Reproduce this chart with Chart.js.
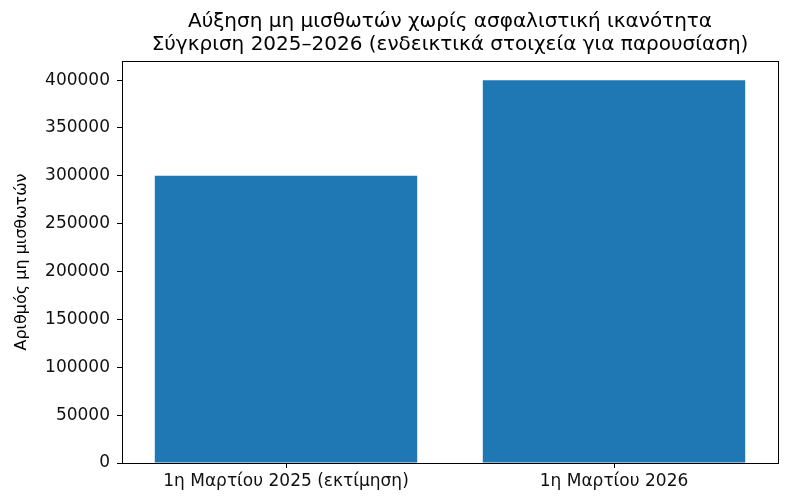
<!DOCTYPE html>
<html>
<head>
<meta charset="utf-8">
<script src="https://cdn.jsdelivr.net/npm/chart.js@4/dist/chart.umd.min.js"></script>
<style>
  html, body { margin: 0; padding: 0; background: #fff; }
  #wrap { width: 791px; height: 500px; }
</style>
</head>
<body>
<div id="wrap"><canvas id="chart"></canvas></div>
<script>
// δεδομένα
const categories = ["1η Μαρτίου 2025 (εκτίμηση)", "1η Μαρτίου 2026"];
const values = [300000, 400000];
const titleLines = [
  "Αύξηση μη μισθωτών χωρίς ασφαλιστική ικανότητα",
  "Σύγκριση 2025–2026 (ενδεικτικά στοιχεία για παρουσίαση)"
];
const yLabel = "Αριθμός μη μισθωτών";
const yTicks = [0, 50000, 100000, 150000, 200000, 250000, 300000, 350000, 400000];
const yMax = 420000;

const FONT = "'DejaVu Sans', sans-serif";

// πλαίσιο γύρω από την περιοχή σχεδίασης (όπως στο matplotlib)
const frame = {
  id: "frame",
  afterDraw(chart) {
    const { ctx, chartArea: a } = chart;
    ctx.save();
    ctx.strokeStyle = "#000";
    ctx.lineWidth = 1;
    ctx.strokeRect(Math.round(a.left) + 0.5, Math.round(a.top) + 0.5,
      Math.round(a.right - a.left), Math.round(a.bottom - a.top));
    ctx.restore();
  }
};

new Chart(document.getElementById("chart"), {
  type: "bar",
  data: {
    labels: categories,
    datasets: [{
      data: values,
      backgroundColor: "#1f77b4",
      barPercentage: 0.8,
      categoryPercentage: 1.0
    }]
  },
  options: {
    responsive: true,
    maintainAspectRatio: false,
    animation: false,
    layout: { padding: { left: 12, right: 13, top: 0, bottom: 0 } },
    plugins: {
      legend: { display: false },
      tooltip: { enabled: false },
      title: {
        display: true,
        fullSize: false,
        text: titleLines,
        color: "#000",
        font: { family: FONT, size: 20, weight: "normal", lineHeight: 1.15 },
        padding: { top: 10, bottom: 5 }
      }
    },
    scales: {
      x: {
        offset: true,
        border: { display: true, color: "#000", width: 1 },
        grid: {
          display: true, offset: false, drawOnChartArea: false,
          drawTicks: true, tickLength: 5, color: "#000"
        },
        ticks: { color: "#111", padding: 3, maxRotation: 0, font: { family: FONT, size: 17 } },
        afterFit(s) { s.height = 37; }
      },
      y: {
        min: 0,
        max: yMax,
        border: { display: true, color: "#000", width: 1 },
        grid: {
          display: true, drawOnChartArea: false,
          drawTicks: true, tickLength: 5, color: "#000"
        },
        ticks: {
          color: "#111", padding: 7, font: { family: FONT, size: 17 },
          callback: v => String(v)
        },
        afterBuildTicks(s) { s.ticks = yTicks.map(v => ({ value: v })); },
        title: {
          display: true,
          text: yLabel,
          color: "#000",
          font: { family: FONT, size: 16 },
          padding: { top: 0, bottom: 4 }
        },
        afterFit(s) { s.width = 110; }
      }
    }
  },
  plugins: [frame]
});
</script>
</body>
</html>
